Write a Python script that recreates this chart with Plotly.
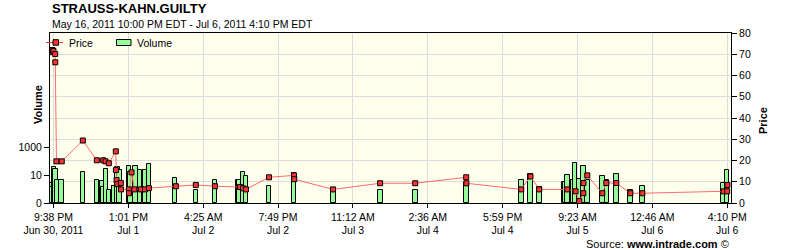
import numpy as np
import plotly.graph_objects as go

# ---------------- data ----------------
price_times = [
    "2011-06-30 21:01", "2011-06-30 21:13", "2011-06-30 21:26", "2011-06-30 21:38",
    "2011-06-30 21:59", "2011-06-30 22:00", "2011-06-30 22:15", "2011-06-30 23:20",
    "2011-07-01 03:40", "2011-07-01 06:33", "2011-07-01 07:52", "2011-07-01 08:20",
    "2011-07-01 09:01", "2011-07-01 10:27", "2011-07-01 10:28", "2011-07-01 10:36",
    "2011-07-01 10:45", "2011-07-01 11:29", "2011-07-01 11:31", "2011-07-01 13:08",
    "2011-07-01 13:10", "2011-07-01 13:41", "2011-07-01 14:16", "2011-07-01 15:36",
    "2011-07-01 16:28", "2011-07-01 17:15", "2011-07-01 22:48", "2011-07-02 02:54",
    "2011-07-02 06:50", "2011-07-02 11:59", "2011-07-02 12:36", "2011-07-02 13:13",
    "2011-07-02 17:57", "2011-07-02 23:06", "2011-07-02 23:08", "2011-07-03 07:07",
    "2011-07-03 16:48", "2011-07-04 00:01", "2011-07-04 10:30", "2011-07-04 10:32",
    "2011-07-04 21:49", "2011-07-04 23:43", "2011-07-05 01:31", "2011-07-05 07:17",
    "2011-07-05 08:59", "2011-07-05 09:45", "2011-07-05 10:35", "2011-07-05 10:37",
    "2011-07-05 11:24", "2011-07-05 14:29", "2011-07-05 15:19", "2011-07-05 17:22",
    "2011-07-05 20:15", "2011-07-05 22:43", "2011-07-06 15:26", "2011-07-06 16:10",
    "2011-07-06 16:13",
]
price_values = [
    72.0, 71.0, 72.0, 71.5,
    70.1, 66.2, 19.6, 19.6,
    29.4, 20.1, 20.1, 19.6,
    18.7, 24.3, 15.5, 10.8,
    8.9, 9.4, 6.4, 6.4,
    4.6, 14.4, 6.4, 6.4,
    6.4, 7.0, 7.9, 8.5,
    7.9, 7.5, 6.9, 6.4,
    12.1, 13.0, 11.2, 6.4,
    9.3, 9.3, 12.1, 9.3,
    6.4, 12.5, 6.4, 6.4,
    5.5, 0.9, 4.6, 9.4,
    13.0, 4.6, 9.4, 9.4,
    4.6, 4.6, 5.5, 5.5,
    8.5,
]

volume_times = [
    "2011-06-30 20:58", "2011-06-30 21:04", "2011-06-30 21:10", "2011-06-30 21:44",
    "2011-06-30 22:00", "2011-06-30 22:24", "2011-06-30 23:19", "2011-07-01 03:39",
    "2011-07-01 06:33", "2011-07-01 07:31", "2011-07-01 07:37", "2011-07-01 07:49",
    "2011-07-01 08:23", "2011-07-01 09:01", "2011-07-01 10:05", "2011-07-01 10:11",
    "2011-07-01 10:46", "2011-07-01 11:11", "2011-07-01 13:07", "2011-07-01 13:27",
    "2011-07-01 14:29", "2011-07-01 15:27", "2011-07-01 16:26", "2011-07-01 17:15",
    "2011-07-01 22:38", "2011-07-02 02:55", "2011-07-02 06:52", "2011-07-02 11:40",
    "2011-07-02 11:46", "2011-07-02 12:35", "2011-07-02 13:15", "2011-07-02 17:59",
    "2011-07-02 23:08", "2011-07-03 07:10", "2011-07-03 16:50", "2011-07-04 00:03",
    "2011-07-04 10:32", "2011-07-04 21:52", "2011-07-04 23:41", "2011-07-05 01:33",
    "2011-07-05 06:45", "2011-07-05 06:51", "2011-07-05 07:21", "2011-07-05 08:19",
    "2011-07-05 08:25", "2011-07-05 08:52", "2011-07-05 09:42", "2011-07-05 10:37",
    "2011-07-05 11:27", "2011-07-05 14:32", "2011-07-05 15:24", "2011-07-05 17:25",
    "2011-07-05 20:15", "2011-07-05 22:46", "2011-07-06 15:26", "2011-07-06 16:05",
]
volume_values = [
    3.1, 3.1, 1.5, 38,
    28, 4.6, 4.6, 17,
    4.6, 4.0, 4.0, 1.6,
    28, 0.9, 1.75, 1.75,
    38, 23, 46, 19,
    47, 23, 23, 62,
    6.4, 0.9, 4.6, 4.6,
    4.6, 17, 9, 1.75,
    14.5, 1.2, 0.8, 0.8,
    2.8, 4.6, 12.3, 1.4,
    3.4, 3.4, 10.4, 4.6,
    4.6, 73, 5.7, 45,
    4.6, 9, 4.6, 12.3,
    0.8, 1.75, 2.8, 23.5,
]

volume_ticks = [0, 10, 1000]
volume_tick_labels = ["0", "10", "1000"]

x_tick_times = [
    "2011-06-30 21:38:00", "2011-07-01 13:01:33", "2011-07-02 04:25:07",
    "2011-07-02 19:48:40", "2011-07-03 11:12:13", "2011-07-04 02:35:47",
    "2011-07-04 17:59:20", "2011-07-05 09:22:53", "2011-07-06 00:46:27",
    "2011-07-06 16:10:00",
]
x_tick_labels = [
    "9:38 PM<br>Jun 30, 2011", "1:01 PM<br>Jul 1", "4:25 AM<br>Jul 2",
    "7:49 PM<br>Jul 2", "11:12 AM<br>Jul 3", "2:36 AM<br>Jul 4",
    "5:59 PM<br>Jul 4", "9:23 AM<br>Jul 5", "12:46 AM<br>Jul 6",
    "4:10 PM<br>Jul 6",
]

title_text = "STRAUSS-KAHN.GUILTY"
subtitle_text = "May 16, 2011 10:00 PM EDT - Jul 6, 2011 4:10 PM EDT"


# volume axis scale (log-like, with 0 at the bottom)
def vol_scale(v):
    return 14.25 * np.log10(1.0 + np.asarray(v, dtype=float) / 0.12)


FONT = "Liberation Sans, Arial, sans-serif"
GRID = "#dcdcdc"
GREEN = "#98fb98"
RED = "#ff3333"
LINE_RED = "#ff6a6a"

fig = go.Figure()

fig.add_trace(go.Bar(
    x=volume_times, y=vol_scale(volume_values), name="Volume",
    width=3.3e6,
    marker=dict(color=GREEN, line=dict(color="black", width=1)),
    yaxis="y", showlegend=False,
))

fig.add_trace(go.Scatter(
    x=price_times, y=price_values, name="Price", mode="lines+markers",
    line=dict(color=LINE_RED, width=1),
    marker=dict(symbol="square", size=5, color=RED, line=dict(color="black", width=1)),
    yaxis="y2", showlegend=False,
))

L, R, T, B = 50, 59, 33, 47
W, H = 790, 250
PW, PH = W - L - R, H - T - B


def px(xp):
    return (xp - L) / PW


def py(yp):
    return (H - B - yp) / PH


shapes = [
    # legend: price line + marker
    dict(type="line", xref="paper", yref="paper", x0=px(46), x1=px(63), y0=py(42.5), y1=py(42.5),
         line=dict(color="#ff3030", width=1)),
    dict(type="rect", xref="paper", yref="paper", x0=px(53), x1=px(58.5), y0=py(45.2), y1=py(39.7),
         fillcolor=RED, line=dict(color="black", width=1)),
    # legend: volume box
    dict(type="rect", xref="paper", yref="paper", x0=px(116.5), x1=px(131), y0=py(45.5), y1=py(39.5),
         fillcolor=GREEN, line=dict(color="black", width=1)),
]

annotations = [
    dict(text="<b>" + title_text + "</b>", xref="paper", yref="paper", x=px(50), y=py(8.5),
         xanchor="left", yanchor="middle", showarrow=False,
         font=dict(family=FONT, size=13, color="black")),
    dict(text=subtitle_text, xref="paper", yref="paper", x=px(49.5), y=py(24.5),
         xanchor="left", yanchor="middle", showarrow=False,
         font=dict(family=FONT, size=10.5, color="black")),
    dict(text="Price", xref="paper", yref="paper", x=px(67), y=py(42.5),
         xanchor="left", yanchor="middle", showarrow=False,
         font=dict(family=FONT, size=10.5, color="black")),
    dict(text="Volume", xref="paper", yref="paper", x=px(135), y=py(42.5),
         xanchor="left", yanchor="middle", showarrow=False,
         font=dict(family=FONT, size=10.5, color="black")),
    dict(text="<b>Volume</b>", xref="paper", yref="paper", x=px(38), y=py(105),
         xanchor="center", yanchor="middle", textangle=-90, showarrow=False,
         font=dict(family=FONT, size=11, color="black")),
    dict(text="<b>Price</b>", xref="paper", yref="paper", x=px(763), y=py(121),
         xanchor="center", yanchor="middle", textangle=-90, showarrow=False,
         font=dict(family=FONT, size=11, color="black")),
    dict(text="Source: <b>www.intrade.com</b> ©", xref="paper", yref="paper", x=px(731), y=py(243.5),
         xanchor="right", yanchor="middle", showarrow=False,
         font=dict(family=FONT, size=11, color="black")),
]

fig.update_layout(
    width=W, height=H,
    margin=dict(l=L, r=R, t=T, b=B, pad=0),
    paper_bgcolor="white", plot_bgcolor="#ffffee",
    font=dict(family=FONT, size=10.5, color="black"),
    showlegend=False,
    bargap=0,
    shapes=shapes, annotations=annotations,
    xaxis=dict(
        type="date", range=["2011-06-30 20:55", "2011-07-06 16:57"],
        tickmode="array", tickvals=x_tick_times, ticktext=x_tick_labels,
        showgrid=True, gridcolor=GRID, gridwidth=1,
        showline=True, linecolor="black", linewidth=1, mirror=True,
        ticks="outside", ticklen=4, tickcolor="black",
        tickfont=dict(family=FONT, size=10.5, color="black"),
        zeroline=False, fixedrange=True,
    ),
    yaxis=dict(
        range=[0, PH], tickmode="array",
        tickvals=vol_scale(volume_ticks), ticktext=volume_tick_labels,
        showgrid=False, zeroline=False,
        showline=True, linecolor="black", linewidth=1,
        ticks="outside", ticklen=5, tickcolor="black",
        tickfont=dict(family=FONT, size=10.5, color="black"),
        fixedrange=True,
    ),
    yaxis2=dict(
        range=[0, 80], dtick=10, tick0=0, overlaying="y", side="right",
        showgrid=True, gridcolor=GRID, gridwidth=1, zeroline=False,
        showline=True, linecolor="black", linewidth=1,
        ticks="outside", ticklen=5, tickcolor="black",
        tickfont=dict(family=FONT, size=10.5, color="black"),
        fixedrange=True,
    ),
)

fig.write_html("out.html")
